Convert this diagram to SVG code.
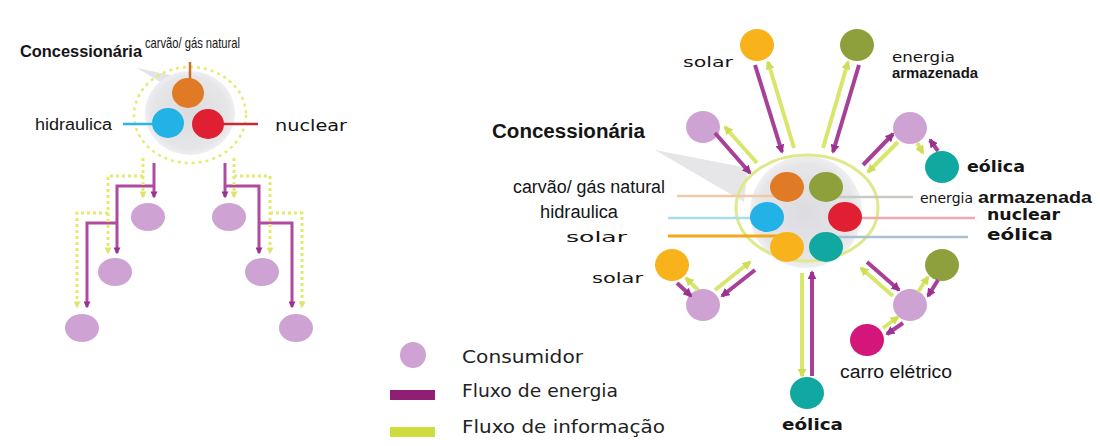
<svg xmlns="http://www.w3.org/2000/svg" width="1100" height="446" viewBox="0 0 1100 446">
<style>
.cond{font-family:"Liberation Sans",Arial,sans-serif;fill:#151515}
.wide{font-family:"DejaVu Sans",Verdana,sans-serif;fill:#151515}
.leg{font-family:"DejaVu Sans",Verdana,sans-serif;fill:#222;font-size:17px}
.en{stroke:#a8409a;stroke-width:4;fill:none}
.inf{stroke:#d9e66c;stroke-width:4;fill:none}
.en2{stroke:#b04a9e;stroke-width:3;fill:none}
.inf2{stroke:#e4ea6c;stroke-width:3;fill:none;stroke-dasharray:3 3}
.cons{fill:#cea3d3}
</style>
<defs>
<marker id="am" viewBox="0 0 10 10" refX="8" refY="5" markerWidth="9" markerHeight="9" markerUnits="userSpaceOnUse" orient="auto"><path d="M0,0 L10,5 L0,10 z" fill="#9a3290"/></marker>
<marker id="ay" viewBox="0 0 10 10" refX="8" refY="5" markerWidth="9" markerHeight="9" markerUnits="userSpaceOnUse" orient="auto"><path d="M0,0 L10,5 L0,10 z" fill="#cfdc58"/></marker>
<marker id="am2" viewBox="0 0 10 10" refX="8" refY="5" markerWidth="7" markerHeight="7" markerUnits="userSpaceOnUse" orient="auto"><path d="M0,0 L10,5 L0,10 z" fill="#9a3290"/></marker>
<marker id="ay2" viewBox="0 0 10 10" refX="8" refY="5" markerWidth="7" markerHeight="7" markerUnits="userSpaceOnUse" orient="auto"><path d="M0,0 L10,5 L0,10 z" fill="#dfe470"/></marker>
<radialGradient id="gh" cx="0.5" cy="0.5" r="0.5"><stop offset="0" stop-color="#dcdce0"/><stop offset="0.85" stop-color="#e6e6e9"/><stop offset="1" stop-color="#efeff1"/></radialGradient>
</defs>

<!-- LEFT: concessionaire hub -->
<g id="left-hub">
<path d="M137,68 L160,82 L175,76 Z" fill="#e4e4e7"/>
<ellipse cx="190" cy="113" rx="45" ry="42" fill="url(#gh)"/>
<ellipse cx="190" cy="115" rx="56" ry="48" fill="none" stroke="#e6ea70" stroke-width="2.5" stroke-dasharray="3 4"/>
<line x1="190" y1="62" x2="190" y2="85" stroke="#c7702a" stroke-width="2.5"/>
<line x1="123" y1="124" x2="155" y2="124" stroke="#27b5e6" stroke-width="2.5"/>
<line x1="222" y1="124" x2="258" y2="124" stroke="#c8283a" stroke-width="2.5"/>
<ellipse cx="188" cy="93" rx="16" ry="15" fill="#e07a24"/>
<ellipse cx="168" cy="123" rx="16" ry="15" fill="#22b2e6"/>
<ellipse cx="208" cy="124" rx="16" ry="15" fill="#e01f32"/>
<text class="cond" x="20" y="57" font-size="16" font-weight="bold" textLength="122" lengthAdjust="spacingAndGlyphs">Concessionária</text>
<text class="cond" x="145" y="48" font-size="15" textLength="95" lengthAdjust="spacingAndGlyphs">carvão/ gás natural</text>
<text class="cond" x="35" y="130" font-size="16" textLength="77" lengthAdjust="spacingAndGlyphs">hidraulica</text>
<text class="wide" x="275" y="131" font-size="15" textLength="72" lengthAdjust="spacingAndGlyphs">nuclear</text>
</g>

<!-- LEFT: consumers -->
<g id="left-c1"><ellipse class="cons" cx="148" cy="217" rx="17" ry="14"/></g>
<g id="left-c2"><ellipse class="cons" cx="115" cy="272" rx="17" ry="14"/></g>
<g id="left-c3"><ellipse class="cons" cx="82" cy="328" rx="17" ry="14"/></g>
<g id="left-c4"><ellipse class="cons" cx="229" cy="217" rx="17" ry="14"/></g>
<g id="left-c5"><ellipse class="cons" cx="262" cy="272" rx="17" ry="14"/></g>
<g id="left-c6"><ellipse class="cons" cx="296" cy="328" rx="17" ry="14"/></g>

<!-- RIGHT: hub -->
<g id="right-hub">
<path d="M655,150 L748,168 L744,202 Z" fill="#e6e6e8"/>
<circle cx="806" cy="212" r="56" fill="url(#gh)"/>
<ellipse cx="807" cy="208" rx="71" ry="53" fill="none" stroke="#dfe88a" stroke-width="3"/>
<line x1="677" y1="196" x2="780" y2="196" stroke="#f0c9a8" stroke-width="2.5"/>
<line x1="835" y1="197" x2="913" y2="197" stroke="#c9c9c4" stroke-width="2.5"/>
<line x1="668" y1="218" x2="765" y2="218" stroke="#a9dcec" stroke-width="2.5"/>
<line x1="668" y1="236" x2="785" y2="236" stroke="#f2a818" stroke-width="3"/>
<line x1="845" y1="218" x2="975" y2="218" stroke="#f0a8b4" stroke-width="2.5"/>
<line x1="826" y1="237" x2="968" y2="237" stroke="#a8c0d4" stroke-width="2.5"/>
<ellipse cx="787" cy="187" rx="17" ry="15" fill="#e07a24"/>
<ellipse cx="826" cy="187" rx="17" ry="15" fill="#8ea03c"/>
<ellipse cx="767" cy="217" rx="17" ry="15" fill="#22b2e6"/>
<ellipse cx="845" cy="217" rx="17" ry="15" fill="#e01f32"/>
<ellipse cx="787" cy="247" rx="17" ry="15" fill="#f7b21c"/>
<ellipse cx="826" cy="247" rx="17" ry="15" fill="#10a8a0"/>
<text class="cond" x="492" y="138" font-size="20" font-weight="bold" textLength="153" lengthAdjust="spacingAndGlyphs">Concessionária</text>
<text class="cond" x="513" y="193" font-size="18" textLength="152" lengthAdjust="spacingAndGlyphs">carvão/ gás natural</text>
<text class="cond" x="540" y="218" font-size="18" textLength="78" lengthAdjust="spacingAndGlyphs">hidraulica</text>
<text class="wide" x="566" y="242" font-size="14" textLength="61" lengthAdjust="spacingAndGlyphs">solar</text>
<text class="wide" x="920" y="203" font-size="14" textLength="53" lengthAdjust="spacingAndGlyphs">energia</text>
<text class="cond" x="978" y="203" font-size="16" font-weight="bold" textLength="114" lengthAdjust="spacingAndGlyphs">armazenada</text>
<text class="wide" x="987" y="220" font-size="15" font-weight="bold" textLength="73" lengthAdjust="spacingAndGlyphs">nuclear</text>
<text class="wide" x="987" y="240" font-size="15" font-weight="bold" textLength="66" lengthAdjust="spacingAndGlyphs">eólica</text>
</g>

<!-- RIGHT: peripheral nodes -->
<g id="solar-top"><ellipse cx="757" cy="45" rx="17" ry="16" fill="#f7b21c"/><text class="wide" x="683" y="67" font-size="14" textLength="50" lengthAdjust="spacingAndGlyphs">solar</text></g>
<g id="armazenada-top"><ellipse cx="857" cy="45" rx="17" ry="16" fill="#8ea03c"/><text class="wide" x="892" y="62" font-size="14" textLength="63" lengthAdjust="spacingAndGlyphs">energia</text><text class="cond" x="892" y="78" font-size="14" font-weight="bold" textLength="86" lengthAdjust="spacingAndGlyphs">armazenada</text></g>
<g id="consumer-ul"><ellipse class="cons" cx="703" cy="127" rx="17" ry="16"/></g>
<g id="consumer-ur"><ellipse class="cons" cx="910" cy="128" rx="17" ry="16"/></g>
<g id="eolica-ur"><ellipse cx="942" cy="167" rx="17" ry="16" fill="#10a8a0"/><text class="wide" x="967" y="172" font-size="15" font-weight="bold" textLength="58" lengthAdjust="spacingAndGlyphs">eólica</text></g>
<g id="solar-ll"><ellipse cx="672" cy="265" rx="17" ry="16" fill="#f7b21c"/><text class="wide" x="592" y="283" font-size="14" textLength="51" lengthAdjust="spacingAndGlyphs">solar</text></g>
<g id="consumer-ll"><ellipse class="cons" cx="703" cy="305" rx="17" ry="16"/></g>
<g id="armazenada-lr"><ellipse cx="942" cy="265" rx="17" ry="16" fill="#8ea03c"/></g>
<g id="consumer-lr"><ellipse class="cons" cx="910" cy="305" rx="17" ry="16"/></g>
<g id="carro"><ellipse cx="867" cy="340" rx="17" ry="16" fill="#d4157a"/><text class="cond" x="840" y="378" font-size="18" textLength="112" lengthAdjust="spacingAndGlyphs">carro elétrico</text></g>
<g id="eolica-bottom"><ellipse cx="807" cy="393" rx="17" ry="16" fill="#10a8a0"/><text class="wide" x="782" y="430" font-size="15" font-weight="bold" textLength="61" lengthAdjust="spacingAndGlyphs">eólica</text></g>

<!-- connectors -->
<g id="connectors">
<!-- left tree energy -->
<path class="en2" d="M154,163 V197" marker-end="url(#am2)"/>
<path class="en2" d="M154,186 H117 V253" marker-end="url(#am2)"/>
<path class="en2" d="M117,223 H87 V307" marker-end="url(#am2)"/>
<path class="en2" d="M225,163 V197" marker-end="url(#am2)"/>
<path class="en2" d="M225,186 H259 V253" marker-end="url(#am2)"/>
<path class="en2" d="M259,223 H292 V307" marker-end="url(#am2)"/>
<!-- left tree info -->
<path class="inf2" d="M143,158 V197" marker-end="url(#ay2)"/>
<path class="inf2" d="M143,176 H108 V253" marker-end="url(#ay2)"/>
<path class="inf2" d="M108,213 H77 V307" marker-end="url(#ay2)"/>
<path class="inf2" d="M234,158 V197" marker-end="url(#ay2)"/>
<path class="inf2" d="M234,176 H270 V253" marker-end="url(#ay2)"/>
<path class="inf2" d="M270,213 H302 V307" marker-end="url(#ay2)"/>
<!-- right spokes -->
<line class="en" x1="755" y1="65" x2="782" y2="152" marker-end="url(#am)"/>
<line class="inf" x1="794" y1="148" x2="768" y2="62" marker-end="url(#ay)"/>
<line class="en" x1="859" y1="65" x2="833" y2="152" marker-end="url(#am)"/>
<line class="inf" x1="823" y1="148" x2="848" y2="62" marker-end="url(#ay)"/>
<line class="en" x1="715" y1="133" x2="750" y2="173" marker-end="url(#am)"/>
<line class="inf" x1="757" y1="163" x2="725" y2="127" marker-end="url(#ay)"/>
<line class="en" x1="863" y1="165" x2="893" y2="134" marker-end="url(#am)"/>
<line class="inf" x1="898" y1="142" x2="868" y2="172" marker-end="url(#ay)"/>
<line class="en" x1="938" y1="151" x2="930" y2="140" marker-end="url(#am)"/>
<line class="inf" x1="917" y1="143" x2="923" y2="153" marker-end="url(#ay)"/>
<line class="en" x1="677" y1="283" x2="691" y2="296" marker-end="url(#am)"/>
<line class="inf" x1="698" y1="290" x2="686" y2="278" marker-end="url(#ay)"/>
<line class="en" x1="755" y1="270" x2="722" y2="296" marker-end="url(#am)"/>
<line class="inf" x1="715" y1="290" x2="750" y2="262" marker-end="url(#ay)"/>
<line class="inf" x1="802" y1="273" x2="802" y2="376" marker-end="url(#ay)"/>
<line class="en" x1="812" y1="376" x2="812" y2="272" marker-end="url(#am)"/>
<line class="en" x1="867" y1="262" x2="899" y2="290" marker-end="url(#am)"/>
<line class="inf" x1="893" y1="296" x2="861" y2="268" marker-end="url(#ay)"/>
<line class="en" x1="938" y1="280" x2="928" y2="296" marker-end="url(#am)"/>
<line class="inf" x1="918" y1="292" x2="928" y2="277" marker-end="url(#ay)"/>
<line class="en" x1="903" y1="323" x2="887" y2="334" marker-end="url(#am)"/>
<line class="inf" x1="883" y1="328" x2="898" y2="317" marker-end="url(#ay)"/>
</g>

<!-- legend -->
<g id="legend">
<circle cx="413" cy="355" r="13" class="cons"/>
<text class="leg" x="462" y="363" textLength="121" lengthAdjust="spacingAndGlyphs">Consumidor</text>
<rect x="390" y="390" width="45" height="10" fill="#8e1f72"/>
<text class="leg" x="462" y="397" textLength="156" lengthAdjust="spacingAndGlyphs">Fluxo de energia</text>
<rect x="390" y="427" width="45" height="10" fill="#cfdc3e"/>
<text class="leg" x="462" y="433" textLength="203" lengthAdjust="spacingAndGlyphs">Fluxo de informação</text>
</g>
</svg>
